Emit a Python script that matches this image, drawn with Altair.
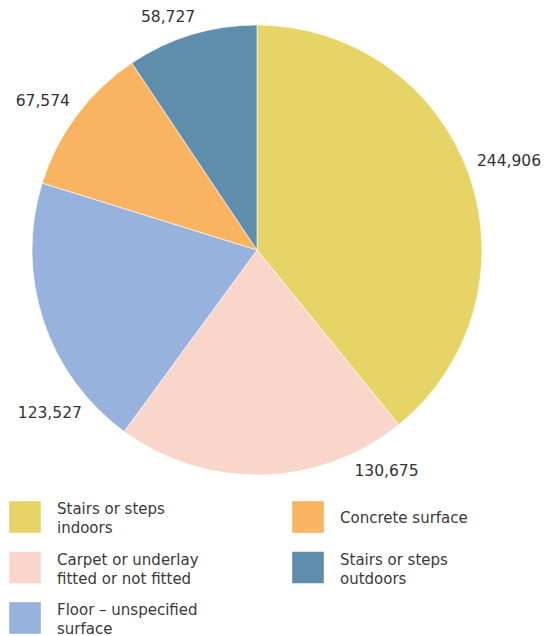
import altair as alt
import pandas as pd
import math

# ---- data ----
categories = [
    "Stairs or steps indoors",
    "Carpet or underlay fitted or not fitted",
    "Floor – unspecified surface",
    "Concrete surface",
    "Stairs or steps outdoors",
]
values = [244906, 130675, 123527, 67574, 58727]
legend_labels = [
    "Stairs or steps\nindoors",
    "Carpet or underlay\nfitted or not fitted",
    "Floor – unspecified\nsurface",
    "Concrete surface",
    "Stairs or steps\noutdoors",
]
colors = ["#E6D566", "#FAD6CA", "#97B2DD", "#FAB461", "#5E8EAC"]

# ---- layout (not data) ----
label_angle_shift_deg = [0, -29, -20, -2, -4]
FONT = "DejaVu Sans"
TEXT_COLOR = "#333333"
LEGEND_TEXT_COLOR = "#3a3a3a"
PIE_R = 225
LABEL_GAP_R = 232
CHAR_W = 10
TEXT_H = 14
LINE_H = 19

total = sum(values)
df = pd.DataFrame({
    "category": categories,
    "value": values,
    "idx": list(range(len(categories))),
    "shift": label_angle_shift_deg,
    "legend": legend_labels,
})

theta_scale = alt.Scale(domain=[0, total], range=[0, 2 * math.pi])
color_scale = alt.Scale(domain=categories, range=colors)

base = alt.Chart(df)

arcs = base.mark_arc(outerRadius=PIE_R, stroke="white", strokeWidth=0.6).encode(
    theta=alt.Theta("value:Q", stack=True, scale=theta_scale),
    color=alt.Color("category:N", scale=color_scale, legend=None),
    order=alt.Order("idx:Q"),
)

labels = base.transform_window(
    cum="sum(value)", sort=[alt.SortField("idx")], frame=[None, 0]
).transform_calculate(
    label_theta=f"datum.cum - datum.value/2 + datum.shift/360*{total}",
).transform_calculate(
    ang=f"datum.label_theta / {total} * 2 * PI",
    w=f"length(format(datum.value, ',')) * {CHAR_W}",
).transform_calculate(
    label_r=f"{LABEL_GAP_R} + datum.w/2*abs(sin(datum.ang)) + {TEXT_H}/2*abs(cos(datum.ang))"
).mark_text(
    font=FONT, fontSize=15.5, color=TEXT_COLOR, baseline="middle"
).encode(
    theta=alt.Theta("label_theta:Q", stack=None, scale=theta_scale),
    radius=alt.Radius("label_r:Q", scale=alt.Scale(type="linear", domain=[0, 400], range=[0, 400], zero=True)),
    text=alt.Text("value:Q", format=","),
)

pie = alt.layer(arcs, labels).properties(width=498, height=484)

leg_base = base.transform_calculate(
    col="floor(datum.idx / 3)", row="datum.idx % 3"
)
xs = alt.X("col:Q", scale=alt.Scale(domain=[0, 1], range=[17, 300]), axis=None)
ys = alt.Y("row:Q", scale=alt.Scale(domain=[0, 2], range=[25, 126]), axis=None)

leg_sq = leg_base.mark_square(size=1000, opacity=1).encode(
    x=xs, y=ys, color=alt.Color("category:N", scale=color_scale, legend=None)
)
text_props = dict(align="left", baseline="middle", dx=32, lineBreak="\n",
                  lineHeight=LINE_H, font=FONT, fontSize=15, color=LEGEND_TEXT_COLOR)
leg_tx2 = leg_base.transform_filter(
    "indexof(datum.legend, '\\n') >= 0"
).mark_text(dy=-LINE_H / 2 + 1.5, **text_props).encode(x=xs, y=ys, text="legend:N")
leg_tx1 = leg_base.transform_filter(
    "indexof(datum.legend, '\\n') < 0"
).mark_text(dy=1, **text_props).encode(x=xs, y=ys, text="legend:N")

legend = alt.layer(leg_sq, leg_tx2, leg_tx1).properties(width=536, height=144)

chart = alt.vconcat(pie, legend, spacing=0).properties(padding=0).configure_view(stroke=None)

chart.save("out.html", embed_options={"renderer": "svg", "actions": False})
